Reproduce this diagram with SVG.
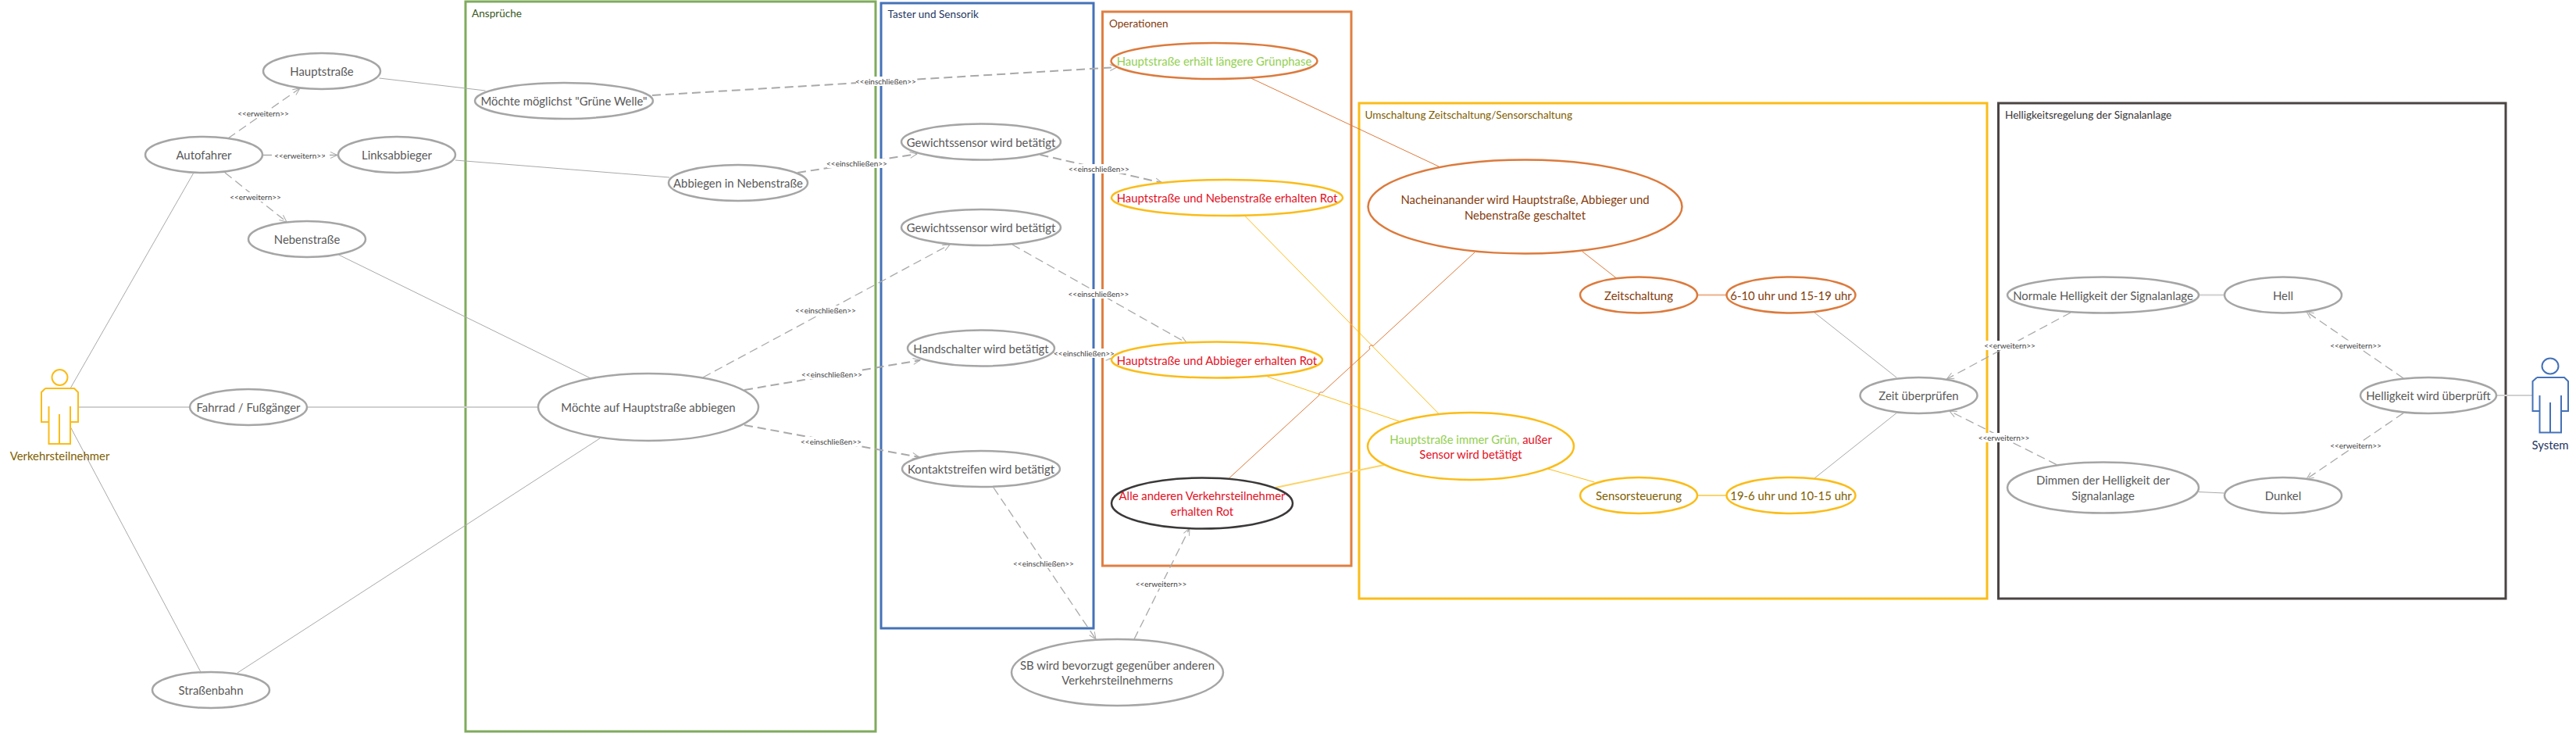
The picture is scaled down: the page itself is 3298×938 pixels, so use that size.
<svg xmlns="http://www.w3.org/2000/svg" width="3298" height="938" viewBox="0 0 3298 938">
<style>
text{font-family:"Lato","Liberation Sans",sans-serif;font-size:14.9px;fill:#595959;text-anchor:middle;dominant-baseline:central}
.fl{font-size:13.6px;text-anchor:start}
.lb{font-size:10px;fill:#404040}
.frame{fill:none;stroke-width:3}
ellipse{fill:#fff;stroke:#a5a5a5;stroke-width:2.5}
.o ellipse{stroke:#dc7a3c}
.y ellipse{stroke:#fbbc18}
.d ellipse{stroke:#3b3838}
.s{fill:none;stroke:#a9a9a9;stroke-width:1}
.sl{fill:none;stroke:#d0d0d0;stroke-width:2}
.da{fill:none;stroke:#a9a9a9;stroke-width:1.3;stroke-dasharray:11 6;marker-end:url(#a)}
.dt{stroke-width:2}
.so{fill:none;stroke:#dc7a3c;stroke-width:1}
.sy{fill:none;stroke:#fbbc18;stroke-width:1}
.syl{fill:none;stroke:#fbd46a;stroke-width:2}
.sol{fill:none;stroke:#eeb08a;stroke-width:2}
.bg{fill:#fff}
.actor{fill:none;stroke-width:2}
</style>
<defs>
<marker id="a" markerWidth="12" markerHeight="12" refX="10" refY="5" orient="auto" markerUnits="userSpaceOnUse"><path d="M1,1L10,5L1,9" fill="none" stroke="#a9a9a9" stroke-width="1"/></marker>
</defs>
<g id="frames">
<rect class="frame" x="596" y="2" width="525" height="934" stroke="#7fab5c"/>
<rect class="frame" x="1128" y="4" width="272" height="800" stroke="#4472b8"/>
<rect class="frame" x="1411.5" y="15" width="318.5" height="709" stroke="#e07f42"/>
<rect class="frame" x="1740" y="132" width="804" height="634" stroke="#fbbc18"/>
<rect class="frame" x="2558.5" y="132" width="649.5" height="634" stroke="#4a4543"/>
<text class="fl" x="604" y="17" style="fill:#385723">Ansprüche</text>
<text class="fl" x="1136.5" y="18" style="fill:#1f3864">Taster und Sensorik</text>
<text class="fl" x="1420" y="30" style="fill:#843c0c">Operationen</text>
<text class="fl" x="1747.5" y="147" style="fill:#7f6000">Umschaltung Zeitschaltung/Sensorschaltung</text>
<text class="fl" x="2567" y="147" style="fill:#3b3838">Helligkeitsregelung der Signalanlage</text>
</g>
<g id="connectors">
<path class="s" d="M485.5,100L621.5,116"/>
<path class="s" d="M583,205L857,227"/>
<path class="da" d="M292,177L384,113"/>
<path class="da" d="M337,198.5L432,198.5"/>
<path class="da" d="M288,221L367,284"/>
<path class="s" d="M433.5,326L756,484"/>
<path class="s" d="M247.6,221.7L90,497"/>
<path class="sl" d="M100,521L243,521"/>
<path class="sl" d="M394,521L690,521"/>
<path class="s" d="M90,546L257,860"/>
<path class="s" d="M304,861L768,561"/>
<path class="da dt" d="M835,122L1430,86"/>
<path class="da dt" d="M1021,221L1174,197"/>
<path class="da" d="M900,483L1216,313"/>
<path class="da dt" d="M953,499L1178,461"/>
<path class="da dt" d="M953,544L1177,585"/>
<path class="da dt" d="M1331.5,198L1488,234"/>
<path class="da" d="M1296,313L1519.5,439"/>
<path class="da" d="M1349,451L1425,458"/>
<path class="da" d="M1272,624L1403,818"/>
<path class="da" d="M1452,818L1523,676"/>
<path class="so" d="M1601.5,100L1842,213"/>
<path class="sy" d="M1594.5,277L1841.5,529"/>
<path class="sy" d="M1622.6,482L1791,539"/>
<path class="syl" d="M1633,624L1772,595"/>
<path class="so" d="M1573.5,612L1689,505.7A2.7,2.7 0 0 1 1693,502.3L1754,446.4A2.7,2.7 0 0 1 1758,442.6L1888,323"/>
<path class="so" d="M2026,322L2069.5,356"/>
<path class="sol" d="M2173,377.5L2210.5,377.5"/>
<path class="sy" d="M1982,600L2041.4,617"/>
<path class="syl" d="M2173,634L2210.5,634"/>
<path class="s" d="M2323,400L2428,483"/>
<path class="s" d="M2323,612L2428,528.6"/>
<path class="da" d="M2651,400L2492.5,485"/>
<path class="da" d="M2633,594.6L2496,526"/>
<path class="sl" d="M2815,377.5L2847.5,377.5"/>
<path class="s" d="M2815,629.5L2847.5,631"/>
<path class="da" d="M3077,484L2953,399"/>
<path class="da" d="M3077,528.6L2953,613"/>
<path class="sl" d="M3196,506L3242.5,506"/>
</g>
<g id="connector-labels">
<rect class="bg" x="306" y="139" width="62" height="12"/><text class="lb" x="337" y="145">&lt;&lt;erweitern&gt;&gt;</text>
<rect class="bg" x="353" y="193" width="62" height="12"/><text class="lb" x="384" y="199">&lt;&lt;erweitern&gt;&gt;</text>
<rect class="bg" x="296" y="246" width="62" height="12"/><text class="lb" x="327" y="252">&lt;&lt;erweitern&gt;&gt;</text>
<rect class="bg" x="1096" y="98" width="76" height="12"/><text class="lb" x="1134" y="104">&lt;&lt;einschließen&gt;&gt;</text>
<rect class="bg" x="1059" y="203" width="76" height="12"/><text class="lb" x="1097" y="209">&lt;&lt;einschließen&gt;&gt;</text>
<rect class="bg" x="1019" y="391" width="76" height="12"/><text class="lb" x="1057" y="397">&lt;&lt;einschließen&gt;&gt;</text>
<rect class="bg" x="1027" y="473" width="76" height="12"/><text class="lb" x="1065" y="479">&lt;&lt;einschließen&gt;&gt;</text>
<rect class="bg" x="1026" y="559" width="76" height="12"/><text class="lb" x="1064" y="565">&lt;&lt;einschließen&gt;&gt;</text>
<rect class="bg" x="1369" y="210" width="76" height="12"/><text class="lb" x="1407" y="216">&lt;&lt;einschließen&gt;&gt;</text>
<rect class="bg" x="1368.5" y="370" width="76" height="12"/><text class="lb" x="1406.5" y="376">&lt;&lt;einschließen&gt;&gt;</text>
<rect class="bg" x="1350" y="446" width="76" height="12"/><text class="lb" x="1388" y="452">&lt;&lt;einschließen&gt;&gt;</text>
<rect class="bg" x="1298" y="715" width="76" height="12"/><text class="lb" x="1336" y="721">&lt;&lt;einschließen&gt;&gt;</text>
<rect class="bg" x="1455.5" y="741" width="62" height="12"/><text class="lb" x="1486.5" y="747">&lt;&lt;erweitern&gt;&gt;</text>
<rect class="bg" x="2542" y="436" width="62" height="12"/><text class="lb" x="2573" y="442">&lt;&lt;erweitern&gt;&gt;</text>
<rect class="bg" x="2534.5" y="554" width="62" height="12"/><text class="lb" x="2565.5" y="560">&lt;&lt;erweitern&gt;&gt;</text>
<rect class="bg" x="2985" y="435.5" width="62" height="12"/><text class="lb" x="3016" y="441.5">&lt;&lt;erweitern&gt;&gt;</text>
<rect class="bg" x="2985" y="564" width="62" height="12"/><text class="lb" x="3016" y="570">&lt;&lt;erweitern&gt;&gt;</text>
</g>
<g id="actor-verkehrsteilnehmer">
<g class="actor" stroke="#fbbc18"><ellipse cx="76.5" cy="483" rx="10" ry="10" style="stroke:#fbbc18;stroke-width:2"/>
<path d="M58,497H95L100,502V540H90V520M90,540V568H62.5V520M62.5,540H53V502L58,497M76,530V568"/></g>
<text x="76.5" y="583" style="fill:#7f6000">Verkehrsteilnehmer</text>
</g>
<g id="actor-system">
<g class="actor" stroke="#4472b8"><ellipse cx="3265" cy="468.5" rx="10.5" ry="10" style="stroke:#4472b8;stroke-width:2"/>
<path d="M3248,483H3283L3288,488V526H3279V506M3279,526V553.500H3251.500V506M3251.500,526H3242.500V488L3248,483M3265,515V553.500"/></g>
<text x="3265" y="569" style="fill:#1f3864">System</text>
</g>
<g id="n-hauptstrasse"><ellipse cx="412" cy="91" rx="75" ry="23"/><text x="412" y="91">Hauptstraße</text></g>
<g id="n-autofahrer"><ellipse cx="261" cy="198" rx="75" ry="23"/><text x="261" y="198">Autofahrer</text></g>
<g id="n-linksabbieger"><ellipse cx="508" cy="198" rx="75" ry="23"/><text x="508" y="198">Linksabbieger</text></g>
<g id="n-nebenstrasse"><ellipse cx="393" cy="306" rx="75" ry="23"/><text x="393" y="306">Nebenstraße</text></g>
<g id="n-fahrrad"><ellipse cx="318" cy="521" rx="75" ry="23"/><text x="318" y="521">Fahrrad / Fußgänger</text></g>
<g id="n-strassenbahn"><ellipse cx="270" cy="883" rx="75" ry="23"/><text x="270" y="883">Straßenbahn</text></g>
<g id="n-gruene-welle"><ellipse cx="722" cy="129" rx="114" ry="23"/><text x="722" y="129">Möchte möglichst "Grüne Welle"</text></g>
<g id="n-abbiegen"><ellipse cx="945" cy="234" rx="89" ry="23"/><text x="945" y="234">Abbiegen in Nebenstraße</text></g>
<g id="n-hauptstr-abbiegen"><ellipse cx="830" cy="521" rx="141" ry="43"/><text x="830" y="521">Möchte auf Hauptstraße abbiegen</text></g>
<g id="n-gew1"><ellipse cx="1256" cy="181.5" rx="102" ry="23"/><text x="1256" y="181.5">Gewichtssensor wird betätigt</text></g>
<g id="n-gew2"><ellipse cx="1256" cy="291" rx="102" ry="23"/><text x="1256" y="291">Gewichtssensor wird betätigt</text></g>
<g id="n-hand"><ellipse cx="1256" cy="445.5" rx="94" ry="23"/><text x="1256" y="445.5">Handschalter wird betätigt</text></g>
<g id="n-kontakt"><ellipse cx="1256" cy="600" rx="101" ry="23"/><text x="1256" y="600">Kontaktstreifen wird betätigt</text></g>
<g id="n-sb"><ellipse cx="1430.5" cy="860.5" rx="135.5" ry="42.5"/><text x="1430.5" y="850.5">SB wird bevorzugt gegenüber anderen</text><text x="1430.5" y="870">Verkehrsteilnehmerns</text></g>
<g id="n-gruenphase" class="o"><ellipse cx="1554.5" cy="78" rx="132" ry="23"/><text x="1554.5" y="78" style="fill:#92d050">Hauptstraße erhält längere Grünphase</text></g>
<g id="n-rot1" class="y"><ellipse cx="1571" cy="253" rx="148" ry="23"/><text x="1571" y="253" style="fill:#e3111f">Hauptstraße und Nebenstraße erhalten Rot</text></g>
<g id="n-rot2" class="y"><ellipse cx="1558" cy="460.5" rx="135" ry="23"/><text x="1558" y="460.5" style="fill:#e3111f">Hauptstraße und Abbieger erhalten Rot</text></g>
<g id="n-rot3" class="d"><ellipse cx="1539" cy="644" rx="116" ry="32.5"/><text x="1539" y="634" style="fill:#e3111f">Alle anderen Verkehrsteilnehmer</text><text x="1539" y="653.5" style="fill:#e3111f">erhalten Rot</text></g>
<g id="n-nacheinander" class="o"><ellipse cx="1952.5" cy="264.5" rx="201" ry="60"/><text x="1952.5" y="255" style="fill:#843c0c">Nacheinanander wird Hauptstraße, Abbieger und</text><text x="1952.5" y="274.5" style="fill:#843c0c">Nebenstraße geschaltet</text></g>
<g id="n-immer-gruen" class="y"><ellipse cx="1883" cy="571" rx="132" ry="43"/><text x="1883" y="561.5"><tspan style="fill:#92d050">Hauptstraße immer Grün, </tspan><tspan style="fill:#e3111f">außer</tspan></text><text x="1883" y="580.5" style="fill:#e3111f">Sensor wird betätigt</text></g>
<g id="n-zeitschaltung" class="o"><ellipse cx="2098" cy="377.5" rx="75" ry="23"/><text x="2098" y="377.5" style="fill:#843c0c">Zeitschaltung</text></g>
<g id="n-sensorsteuerung" class="y"><ellipse cx="2098" cy="634" rx="75" ry="23"/><text x="2098" y="634" style="fill:#7f6000">Sensorsteuerung</text></g>
<g id="n-6-10" class="o"><ellipse cx="2293" cy="377.5" rx="82.5" ry="23"/><text x="2293" y="377.5" style="fill:#843c0c">6-10 uhr und 15-19 uhr</text></g>
<g id="n-19-6" class="y"><ellipse cx="2293" cy="634" rx="82.5" ry="23"/><text x="2293" y="634" style="fill:#7f6000">19-6 uhr und 10-15 uhr</text></g>
<g id="n-zeit"><ellipse cx="2456.5" cy="506" rx="75" ry="23"/><text x="2456.5" y="506">Zeit überprüfen</text></g>
<g id="n-normal"><ellipse cx="2692.5" cy="377.5" rx="122.5" ry="23"/><text x="2692.5" y="377.5">Normale Helligkeit der Signalanlage</text></g>
<g id="n-dimmen"><ellipse cx="2692.5" cy="624" rx="122.5" ry="32.5"/><text x="2692.5" y="614">Dimmen der Helligkeit der</text><text x="2692.5" y="634">Signalanlage</text></g>
<g id="n-hell"><ellipse cx="2923" cy="377.5" rx="75" ry="23"/><text x="2923" y="377.5">Hell</text></g>
<g id="n-dunkel"><ellipse cx="2923" cy="634" rx="75" ry="23"/><text x="2923" y="634">Dunkel</text></g>
<g id="n-helligkeit"><ellipse cx="3109" cy="506" rx="87" ry="23"/><text x="3109" y="506">Helligkeit wird überprüft</text></g>
</svg>
